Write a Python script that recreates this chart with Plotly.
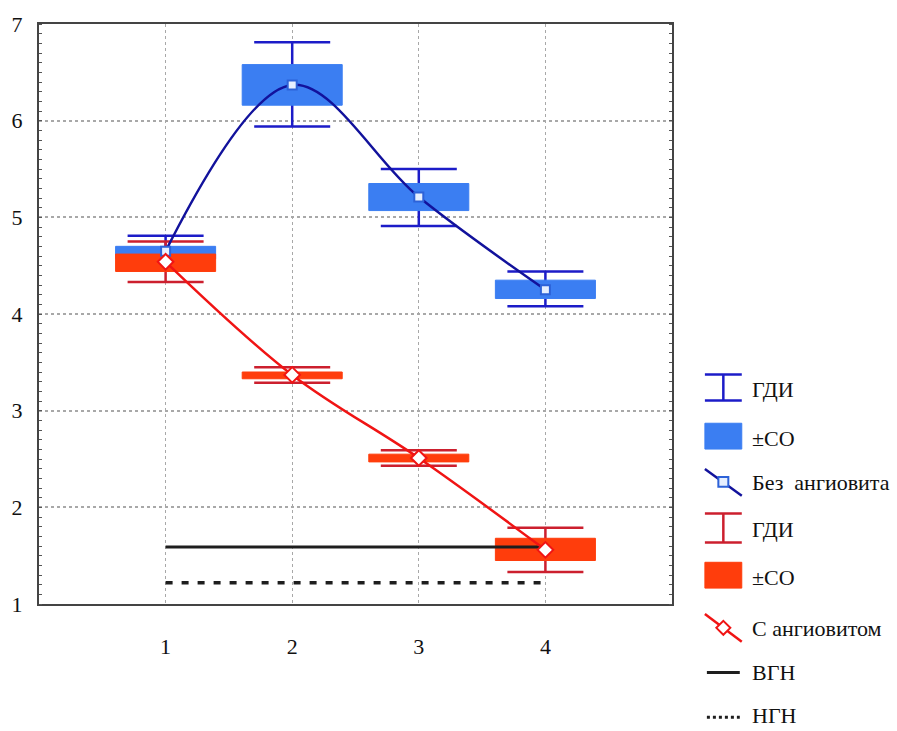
import plotly.graph_objects as go

# Stages of observation
stages = [1, 2, 3, 4]
x_tick_labels = ["1", "2", "3", "4"]
y_tick_values = [1, 2, 3, 4, 5, 6, 7]

# Group without angiovit: mean, ±SD, confidence interval
blue_mean = [4.65, 6.37, 5.21, 4.25]
blue_sd_lo = [4.57, 6.16, 5.07, 4.16]
blue_sd_hi = [4.70, 6.58, 5.35, 4.35]
blue_ci_lo = [4.46, 5.94, 4.91, 4.08]
blue_ci_hi = [4.81, 6.81, 5.50, 4.44]

# Group with angiovit: mean, ±SD, confidence interval
red_mean = [4.54, 3.37, 2.51, 1.56]
red_sd_lo = [4.44, 3.33, 2.47, 1.45]
red_sd_hi = [4.62, 3.40, 2.55, 1.68]
red_ci_lo = [4.33, 3.29, 2.43, 1.33]
red_ci_hi = [4.75, 3.45, 2.59, 1.79]

# Reference norms (upper / lower)
vgn_level = 1.59
ngn_level = 1.22

FONT = "'Liberation Serif', 'Times New Roman', serif"
BLUE_BOX = "#3b7ef2"
BLUE_WHISK = "#1c1cc8"
BLUE_LINE = "#12129c"
RED_BOX = "#ff3d0c"
RED_WHISK = "#cc1f2e"
RED_LINE = "#f01414"
BOX_HALF = 0.395

W, H = 897, 731
ML, MR, MT, MB = 37, 225, 20, 127


def box_outline(xs, lo, hi, hw):
    px, py = [], []
    for x, a, b in zip(xs, lo, hi):
        px += [x - hw, x + hw, x + hw, x - hw, x - hw, None]
        py += [a, a, b, b, a, None]
    return px, py


def whisker_trace(mean, lo, hi, color):
    return go.Scatter(
        x=stages, y=mean, mode="markers",
        marker=dict(size=1, color="rgba(0,0,0,0)"),
        error_y=dict(type="data", symmetric=False,
                     array=[h - m for h, m in zip(hi, mean)],
                     arrayminus=[m - l for m, l in zip(mean, lo)],
                     color=color, thickness=2.5, width=38),
        showlegend=False, hoverinfo="skip",
    )


def box_trace(lo, hi, color):
    bx, by = box_outline(stages, lo, hi, BOX_HALF)
    return go.Scatter(x=bx, y=by, mode="lines", fill="toself",
                      fillcolor=color, line=dict(color=color, width=1),
                      showlegend=False, hoverinfo="skip")


fig = go.Figure()

fig.add_trace(whisker_trace(blue_mean, blue_ci_lo, blue_ci_hi, BLUE_WHISK))
fig.add_trace(box_trace(blue_sd_lo, blue_sd_hi, BLUE_BOX))
fig.add_trace(whisker_trace(red_mean, red_ci_lo, red_ci_hi, RED_WHISK))
fig.add_trace(box_trace(red_sd_lo, red_sd_hi, RED_BOX))

# Norm lines
fig.add_trace(go.Scatter(x=[stages[0], stages[-1]], y=[vgn_level, vgn_level],
                         mode="lines", line=dict(color="#1e1e1e", width=3),
                         showlegend=False, hoverinfo="skip"))
fig.add_trace(go.Scatter(x=[stages[0], stages[-1]], y=[ngn_level, ngn_level],
                         mode="lines",
                         line=dict(color="#1e1e1e", width=3.5, dash="7px,9px"),
                         showlegend=False, hoverinfo="skip"))

# Smoothed mean curves
fig.add_trace(go.Scatter(x=stages, y=blue_mean, mode="lines+markers",
                         line=dict(color=BLUE_LINE, width=2.5, shape="spline"),
                         marker=dict(symbol="square", size=9, color="#e6efff",
                                     line=dict(color="#2d62d8", width=2)),
                         showlegend=False))
fig.add_trace(go.Scatter(x=stages, y=red_mean, mode="lines+markers",
                         line=dict(color=RED_LINE, width=2.5, shape="spline"),
                         marker=dict(symbol="diamond", size=12, color="white",
                                     line=dict(color=RED_LINE, width=2)),
                         showlegend=False))

# ---- hand-drawn legend to the right of the plot (pixel positions) ----
PW = W - ML - MR
PH = H - MT - MB


def fx(px):
    return (px - ML) / PW


def fy(py):
    return (H - MB - py) / PH


shapes = []
annotations = []


def seg(x0, y0, x1, y1, color, width, dash="solid"):
    shapes.append(dict(type="line", xref="paper", yref="paper",
                       x0=fx(x0), y0=fy(y0), x1=fx(x1), y1=fy(y1),
                       line=dict(color=color, width=width, dash=dash)))


def rect(x0, y0, x1, y1, fill, edge, width=1):
    shapes.append(dict(type="rect", xref="paper", yref="paper",
                       x0=fx(x0), y0=fy(y0), x1=fx(x1), y1=fy(y1),
                       fillcolor=fill, line=dict(color=edge, width=width)))


def diamond(cx, cy, r, fill, edge):
    path = "M {} {} L {} {} L {} {} L {} {} Z".format(
        fx(cx), fy(cy - r), fx(cx + r), fy(cy), fx(cx), fy(cy + r),
        fx(cx - r), fy(cy))
    shapes.append(dict(type="path", xref="paper", yref="paper", path=path,
                       fillcolor=fill, line=dict(color=edge, width=2)))


def label(py, text):
    annotations.append(dict(xref="paper", yref="paper", x=fx(750), y=fy(py),
                            xanchor="left", yanchor="middle", showarrow=False,
                            text=text, font=dict(family=FONT, size=22,
                                                 color="#111")))


L0, L1, LC = 705, 742, 723.5

# whisker (blue)
seg(L0, 373, L1, 373, BLUE_WHISK, 2.5)
seg(L0, 399, L1, 399, BLUE_WHISK, 2.5)
seg(LC, 373, LC, 399, BLUE_WHISK, 2.5)
label(388, "ГДИ")
# ±SD (blue)
rect(L0, 422, L1, 448, BLUE_BOX, BLUE_BOX)
label(437, "±СО")
# mean line (blue)
seg(L0, 468, L1, 495, BLUE_LINE, 2.5)
rect(LC - 5, 476, LC + 5, 486, "#e6efff", "#2d62d8", 2)
label(482, "Без\u00a0 ангиовита")
# whisker (red)
seg(L0, 513, L1, 513, RED_WHISK, 2.5)
seg(L0, 542, L1, 542, RED_WHISK, 2.5)
seg(LC, 513, LC, 542, RED_WHISK, 2.5)
label(529, "ГДИ")
# ±SD (red)
rect(L0, 562, L1, 588, RED_BOX, RED_BOX)
label(577, "±СО")
# mean line (red)
seg(L0, 614, L1, 642, RED_LINE, 2.5)
diamond(LC, 628, 7, "white", RED_LINE)
label(629, "С ангиовитом")
# norms
seg(707, 673, 740, 673, "#1e1e1e", 3)
label(673, "ВГН")
seg(707, 718, 740, 718, "#1e1e1e", 3, dash="dot")
label(716, "НГН")

fig.update_layout(
    width=W, height=H,
    margin=dict(l=ML, r=MR, t=MT, b=MB, pad=0),
    paper_bgcolor="white", plot_bgcolor="white",
    font=dict(family=FONT, size=22, color="#111"),
    showlegend=False,
    shapes=shapes, annotations=annotations,
    xaxis=dict(range=[0, 5], tickvals=stages, ticktext=x_tick_labels,
               showgrid=True, gridcolor="#a8a8a8", gridwidth=1, griddash="dot",
               zeroline=False, showline=True, linecolor="#444", linewidth=2,
               mirror=True, ticks="outside", ticklen=22,
               tickcolor="rgba(0,0,0,0)", tickfont=dict(family=FONT, size=22)),
    yaxis=dict(range=[1, 7], tickvals=y_tick_values,
               showgrid=True, gridcolor="#a8a8a8", gridwidth=2, griddash="dot",
               zeroline=False, showline=True, linecolor="#444", linewidth=2,
               mirror="allticks", ticks="outside", ticklen=10,
               tickcolor="rgba(0,0,0,0)",
               minor=dict(dtick=0.1, ticks="inside", ticklen=3,
                          tickcolor="#555", showgrid=False),
               tickfont=dict(family=FONT, size=22)),
)

fig.write_html("out.html")
